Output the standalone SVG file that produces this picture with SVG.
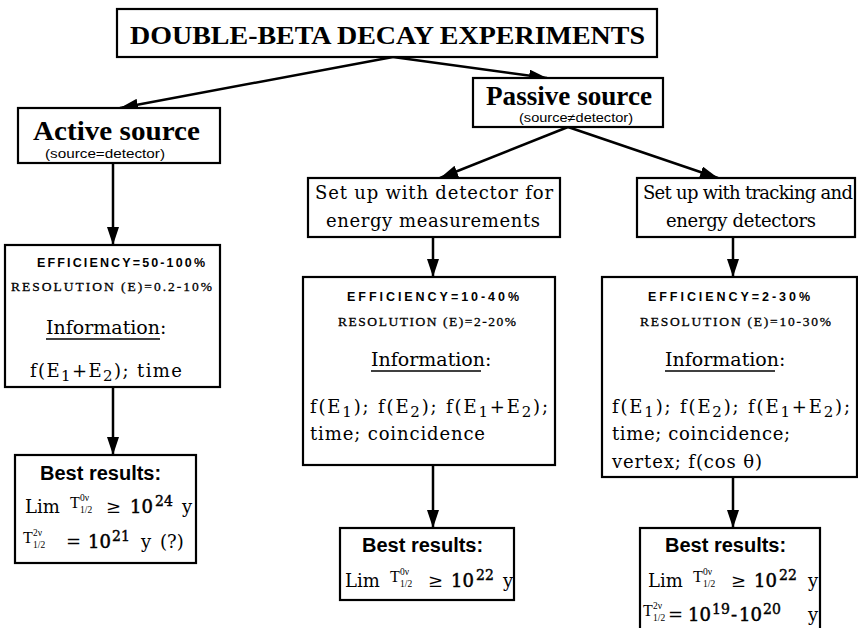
<svg xmlns="http://www.w3.org/2000/svg" width="858" height="628" viewBox="0 0 858 628">
<defs>
  <marker id="ah" markerUnits="userSpaceOnUse" markerWidth="20" markerHeight="12" refX="18" refY="6" orient="auto">
    <path d="M0,0 L18,6 L0,12 Z" fill="#000"/>
  </marker>
  <style>
    .box { fill: #fff; stroke: #000; stroke-width: 2.2; }
    .edge { stroke: #000; stroke-width: 2.5; fill: none; marker-end: url(#ah); }
    .ul { stroke: #000; stroke-width: 1.6; }
    .hd { font-family: "Liberation Serif", "Times New Roman", serif; font-weight: bold; fill: #000; }
    .sm { font-family: "Liberation Sans", Arial, sans-serif; font-size: 12px; fill: #000; }
    .bd { font-family: "DejaVu Serif", "Liberation Serif", serif; font-size: 18px; fill: #000; }
    .eff { font-family: "Liberation Sans", Arial, sans-serif; font-weight: bold; font-size: 12.5px; fill: #000; }
    .res { font-family: "Liberation Serif", "Times New Roman", serif; font-size: 13.5px; fill: #000; stroke: #000; stroke-width: 0.3; }
    .info { font-family: "DejaVu Serif", "Liberation Serif", serif; font-size: 19px; fill: #000; }
    .best { font-family: "Liberation Sans", Arial, sans-serif; font-weight: bold; font-size: 20px; fill: #000; }
    .m { font-family: "DejaVu Serif", "Liberation Serif", serif; font-size: 18px; fill: #000; }
    .mb { font-family: "DejaVu Serif", "Liberation Serif", serif; font-size: 18px; fill: #000; stroke: #000; stroke-width: 0.5; }
    .sup { font-family: "DejaVu Serif", "Liberation Serif", serif; font-size: 14px; fill: #000; stroke: #000; stroke-width: 0.4; }
    .t { font-family: "Liberation Serif", "Times New Roman", serif; font-size: 16px; fill: #000; }
    .ts { font-family: "Liberation Serif", "Times New Roman", serif; font-size: 9.5px; fill: #000; }
  </style>
</defs>

<!-- connectors -->
<g id="connectors">
  <line class="edge" x1="393" y1="57" x2="120" y2="108"/>
  <line class="edge" x1="393" y1="57" x2="547" y2="78"/>
  <line class="edge" x1="568" y1="127" x2="440" y2="178"/>
  <line class="edge" x1="568" y1="127" x2="718" y2="178"/>
  <line class="edge" x1="113" y1="163" x2="113" y2="245"/>
  <line class="edge" x1="433" y1="237" x2="433" y2="277"/>
  <line class="edge" x1="733" y1="237" x2="733" y2="277"/>
  <line class="edge" x1="113" y1="387" x2="113" y2="455"/>
  <line class="edge" x1="433" y1="465" x2="433" y2="528"/>
  <line class="edge" x1="733" y1="477" x2="733" y2="528"/>
</g>

<!-- title -->
<g id="title">
  <rect class="box" x="117" y="9" width="540" height="48"/>
  <text class="hd" x="130" y="44" font-size="26" textLength="515" lengthAdjust="spacingAndGlyphs">DOUBLE-BETA DECAY EXPERIMENTS</text>
</g>

<!-- passive source -->
<g id="passive">
  <rect class="box" x="473" y="78" width="190" height="49"/>
  <text class="hd" x="486" y="105" font-size="27" textLength="166" lengthAdjust="spacingAndGlyphs">Passive source</text>
  <text class="sm" x="519" y="122" textLength="114" lengthAdjust="spacingAndGlyphs">(source≠detector)</text>
</g>

<!-- active source -->
<g id="active">
  <rect class="box" x="18" y="108" width="202" height="55"/>
  <text class="hd" x="33" y="140" font-size="27" textLength="167" lengthAdjust="spacingAndGlyphs">Active source</text>
  <text class="sm" x="45" y="158" textLength="120" lengthAdjust="spacingAndGlyphs">(source=detector)</text>
</g>

<!-- set-up boxes -->
<g id="setup-energy">
  <rect class="box" x="308" y="178" width="252" height="59"/>
  <text class="bd" x="315" y="199" textLength="238" lengthAdjust="spacing">Set up with detector for</text>
  <text class="bd" x="326" y="227" textLength="214" lengthAdjust="spacing">energy measurements</text>
</g>

<g id="setup-tracking">
  <rect class="box" x="637" y="178" width="218" height="59"/>
  <text class="bd" x="643" y="199" textLength="210" lengthAdjust="spacing">Set up with tracking and</text>
  <text class="bd" x="666" y="227" textLength="150" lengthAdjust="spacing">energy detectors</text>
</g>

<!-- information boxes -->
<g id="info-active">
  <rect class="box" x="5" y="245" width="215" height="142"/>
  <text class="eff" x="37" y="267" textLength="168" lengthAdjust="spacing">EFFICIENCY=50-100%</text>
  <text class="res" x="11" y="291" textLength="201" lengthAdjust="spacing">RESOLUTION  (E)=0.2-10%</text>
  <text class="info" x="46" y="334">Information:</text>
  <line class="ul" x1="46" y1="339" x2="160" y2="339"/>
  <text class="bd" x="30" y="377" textLength="152" lengthAdjust="spacing">f(E<tspan dy="4" font-size="15">1</tspan><tspan dy="-4">+E</tspan><tspan dy="4" font-size="15">2</tspan><tspan dy="-4">);  time</tspan></text>
</g>

<g id="info-energy">
  <rect class="box" x="303" y="277" width="252" height="188"/>
  <text class="eff" x="347" y="301" textLength="172" lengthAdjust="spacing">EFFICIENCY=10-40%</text>
  <text class="res" x="338" y="326" textLength="178" lengthAdjust="spacing">RESOLUTION  (E)=2-20%</text>
  <text class="info" x="371" y="366">Information:</text>
  <line class="ul" x1="371" y1="371" x2="481" y2="371"/>
  <text class="bd" x="310" y="413" textLength="238" lengthAdjust="spacing">f(E<tspan dy="4" font-size="15">1</tspan><tspan dy="-4">);  f(E</tspan><tspan dy="4" font-size="15">2</tspan><tspan dy="-4">);  f(E</tspan><tspan dy="4" font-size="15">1</tspan><tspan dy="-4">+E</tspan><tspan dy="4" font-size="15">2</tspan><tspan dy="-4">);</tspan></text>
  <text class="bd" x="310" y="440" textLength="175" lengthAdjust="spacing">time;  coincidence</text>
</g>

<g id="info-tracking">
  <rect class="box" x="602" y="277" width="255" height="200"/>
  <text class="eff" x="648" y="301" textLength="162" lengthAdjust="spacing">EFFICIENCY=2-30%</text>
  <text class="res" x="640" y="326" textLength="191" lengthAdjust="spacing">RESOLUTION  (E)=10-30%</text>
  <text class="info" x="665" y="366">Information:</text>
  <line class="ul" x1="665" y1="371" x2="775" y2="371"/>
  <text class="bd" x="612" y="413" textLength="238" lengthAdjust="spacing">f(E<tspan dy="4" font-size="15">1</tspan><tspan dy="-4">);  f(E</tspan><tspan dy="4" font-size="15">2</tspan><tspan dy="-4">);  f(E</tspan><tspan dy="4" font-size="15">1</tspan><tspan dy="-4">+E</tspan><tspan dy="4" font-size="15">2</tspan><tspan dy="-4">);</tspan></text>
  <text class="bd" x="612" y="440" textLength="178" lengthAdjust="spacing">time;  coincidence;</text>
  <text class="bd" x="612" y="468" textLength="150" lengthAdjust="spacing">vertex;  f(cos  θ)</text>
</g>

<!-- best results boxes -->
<g id="best-active">
  <rect class="box" x="15" y="455" width="181" height="108"/>
  <text class="best" x="40" y="480">Best results:</text>
  <text class="m" x="25" y="513">Lim</text>
  <text class="t" x="70" y="508">T</text>
  <text class="ts" x="80" y="501">0ν</text>
  <text class="ts" x="80" y="513">1/2</text>
  <text class="m" x="106" y="513">≥</text>
  <text class="mb" x="130" y="513">10</text>
  <text class="sup" x="155" y="506">24</text>
  <text class="m" x="182" y="513">y</text>
  <text class="t" x="23" y="543">T</text>
  <text class="ts" x="33" y="536">2ν</text>
  <text class="ts" x="33" y="548">1/2</text>
  <text class="m" x="66" y="548">=</text>
  <text class="mb" x="88" y="548">10</text>
  <text class="sup" x="112" y="541">21</text>
  <text class="m" x="141" y="548">y</text>
  <text class="m" x="160" y="548">(?)</text>
</g>

<g id="best-energy">
  <rect class="box" x="340" y="528" width="174" height="72"/>
  <text class="best" x="362" y="552">Best results:</text>
  <text class="m" x="345" y="587">Lim</text>
  <text class="t" x="390" y="582">T</text>
  <text class="ts" x="400" y="575">0ν</text>
  <text class="ts" x="400" y="587">1/2</text>
  <text class="m" x="428" y="587">≥</text>
  <text class="mb" x="451" y="587">10</text>
  <text class="sup" x="476" y="580">22</text>
  <text class="m" x="503" y="587">y</text>
</g>

<g id="best-tracking">
  <rect class="box" x="640" y="528" width="180" height="112"/>
  <text class="best" x="665" y="552">Best results:</text>
  <text class="m" x="648" y="587">Lim</text>
  <text class="t" x="693" y="582">T</text>
  <text class="ts" x="703" y="575">0ν</text>
  <text class="ts" x="703" y="587">1/2</text>
  <text class="m" x="731" y="587">≥</text>
  <text class="mb" x="754" y="587">10</text>
  <text class="sup" x="779" y="580">22</text>
  <text class="m" x="808" y="587">y</text>
  <text class="t" x="643" y="616">T</text>
  <text class="ts" x="653" y="609">2ν</text>
  <text class="ts" x="653" y="621">1/2</text>
  <text class="m" x="668" y="621">=</text>
  <text class="mb" x="688" y="621">10</text>
  <text class="sup" x="712" y="614">19</text>
  <text class="mb" x="731" y="621">-</text>
  <text class="mb" x="739" y="621">10</text>
  <text class="sup" x="763" y="614">20</text>
  <text class="m" x="808" y="621">y</text>
</g>
</svg>
